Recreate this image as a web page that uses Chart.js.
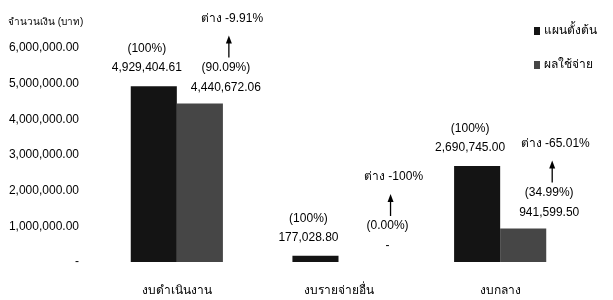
<!DOCTYPE html>
<html>
<head>
<meta charset="utf-8">
<script src="https://cdn.jsdelivr.net/npm/chart.js@4"></script>
<style>
  body { margin: 0; background: #fff; }
  #wrap { width: 613px; height: 300px; position: relative; }
</style>
</head>
<body>
<div id="wrap"><canvas id="budget-chart"></canvas></div>
<script>
const categories = ['งบดำเนินงาน', 'งบรายจ่ายอื่น', 'งบกลาง'];
const seriesNames = ['แผนตั้งต้น', 'ผลใช้จ่าย'];
const planValues = [4929404.61, 177028.80, 2690745.00];
const actualValues = [4440672.06, 0, 941599.50];
const yTicks = [0, 1000000, 2000000, 3000000, 4000000, 5000000, 6000000];
const yTitle = 'จำนวนเงิน (บาท)';
const diffPrefix = 'ต่าง';

const FONT = '"Liberation Sans", "Noto Sans", sans-serif';
const colors = ['#141414', '#464646'];

function money(v) {
    if (v === 0) return '-';
    return v.toLocaleString('en-US', { minimumFractionDigits: 2, maximumFractionDigits: 2 });
}

function pct(i) {
    return Math.round(actualValues[i] / planValues[i] * 10000) / 100;
}

const labelsPlugin = {
    id: 'barNotes',
    afterDatasetsDraw(chart) {
        const ctx = chart.ctx;
        ctx.save();
        ctx.fillStyle = '#000';
        ctx.strokeStyle = '#000';
        ctx.font = '12px ' + FONT;
        ctx.textAlign = 'center';
        ctx.textBaseline = 'middle';

        chart.getDatasetMeta(0).data.forEach((bar, i) => {
            ctx.fillText('(100%)', bar.x - 7, bar.y - 37);
            ctx.fillText(money(planValues[i]), bar.x - 7, bar.y - 18);
        });

        chart.getDatasetMeta(1).data.forEach((bar, i) => {
            const x = bar.x + 26;
            const p = pct(i);
            ctx.fillText(money(actualValues[i]), x, bar.y - 16);
            ctx.fillText('(' + p.toFixed(2) + '%)', x, bar.y - 36);
            // arrow pointing up to the difference note
            const ax = bar.x + 29;
            ctx.lineWidth = 1.3;
            ctx.beginPath();
            ctx.moveTo(ax, bar.y - 46);
            ctx.lineTo(ax, bar.y - 61);
            ctx.stroke();
            ctx.beginPath();
            ctx.moveTo(ax, bar.y - 68);
            ctx.lineTo(ax - 3, bar.y - 60);
            ctx.lineTo(ax + 3, bar.y - 60);
            ctx.closePath();
            ctx.fill();
            const diff = Math.round((p - 100) * 100) / 100;
            ctx.fillText(diffPrefix + ' ' + diff + '%', x + 6, bar.y - 85);
        });

        // y title
        ctx.textAlign = 'left';
        ctx.font = '10px ' + FONT;
        ctx.fillText(yTitle, 8, 22);

        // legend
        ctx.font = '12px ' + FONT;
        seriesNames.forEach((name, i) => {
            const y = 31 + i * 34;
            ctx.fillStyle = colors[i];
            ctx.fillRect(534, y - 4, 6, 8);
            ctx.fillStyle = '#000';
            ctx.fillText(name, 544, y);
        });
        ctx.restore();
    }
};

new Chart(document.getElementById('budget-chart'), {
    type: 'bar',
    data: {
        labels: categories,
        datasets: [
            { label: seriesNames[0], data: planValues, backgroundColor: colors[0] },
            { label: seriesNames[1], data: actualValues, backgroundColor: colors[1] }
        ]
    },
    options: {
        responsive: true,
        maintainAspectRatio: false,
        animation: false,
        categoryPercentage: 0.57,
        barPercentage: 1.0,
        layout: { padding: { top: 48, right: 32, left: 0, bottom: 0 } },
        plugins: {
            legend: { display: false },
            tooltip: { enabled: false }
        },
        scales: {
            y: {
                min: 0,
                max: 6000000,
                afterFit: s => { s.width = 96; },
                afterBuildTicks: s => { s.ticks = yTicks.map(v => ({ value: v })); },
                ticks: {
                    padding: 17,
                    color: '#000',
                    font: { family: FONT, size: 12 },
                    callback: v => money(v)
                },
                grid: { display: false, drawTicks: false },
                border: { display: false }
            },
            x: {
                afterFit: s => { s.height = 38; },
                ticks: {
                    padding: 21,
                    color: '#000',
                    font: { family: FONT, size: 12 }
                },
                grid: { display: false, drawTicks: false },
                border: { display: false }
            }
        }
    },
    plugins: [labelsPlugin]
});
</script>
</body>
</html>
